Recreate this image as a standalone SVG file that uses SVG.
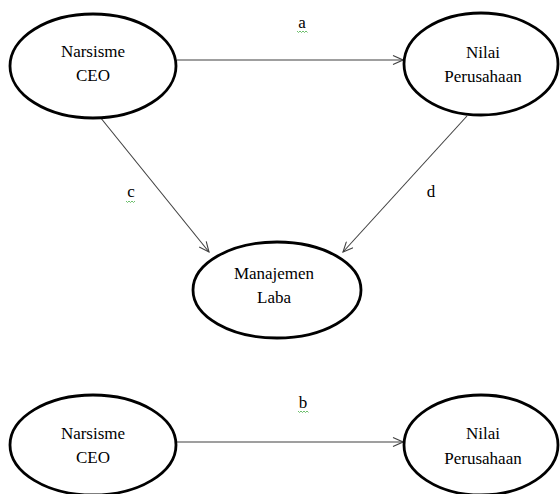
<svg xmlns="http://www.w3.org/2000/svg" width="560" height="494" viewBox="0 0 560 494">
<defs>
<marker id="arr" markerWidth="12" markerHeight="10" refX="11" refY="5" orient="auto" markerUnits="userSpaceOnUse">
<path d="M1,0.5 L11,5 L1,9.5" fill="none" stroke="#404040" stroke-width="1.1"/>
</marker>
</defs>
<style>
.node ellipse{fill:#fff;stroke:#000;stroke-width:2.8}
text{font-family:'Liberation Serif','Times New Roman',serif;font-size:17px;fill:#000;text-anchor:middle}
.edge{stroke:#404040;stroke-width:1.1;fill:none;marker-end:url(#arr)}
.sq{stroke:#5cb85c;stroke-width:0.9;fill:none}
</style>
<rect width="560" height="494" fill="#fff"/>
<g id="connectors">
<line class="edge" x1="177" y1="60" x2="403" y2="60"/>
<line class="edge" x1="100" y1="117" x2="209" y2="252"/>
<line class="edge" x1="467" y1="116" x2="343" y2="252"/>
<line class="edge" x1="177" y1="442" x2="403" y2="442"/>
</g>
<g id="labels">
<text x="302" y="28">a</text>
<path class="sq" d="M297,31 l1.5,1.5 l1.5,-1.5 l1.5,1.5 l1.5,-1.5 l1.5,1.5 l1.5,-1.5 l1.5,1.5"/>
<text x="131" y="197">c</text>
<path class="sq" d="M126,201 l1.5,1.5 l1.5,-1.5 l1.5,1.5 l1.5,-1.5 l1.5,1.5 l1.5,-1.5"/>
<text x="431" y="197">d</text>
<text x="303" y="408">b</text>
<path class="sq" d="M298,411 l1.5,1.5 l1.5,-1.5 l1.5,1.5 l1.5,-1.5 l1.5,1.5 l1.5,-1.5 l1.5,1.5"/>
</g>
<g id="narsisme-ceo-top" class="node">
<ellipse cx="93" cy="66" rx="83" ry="52"/>
<text x="93" y="57">Narsisme</text>
<text x="93" y="81">CEO</text>
</g>
<g id="nilai-perusahaan-top" class="node">
<ellipse cx="481" cy="64" rx="77" ry="51"/>
<text x="483" y="58">Nilai</text>
<text x="483" y="82">Perusahaan</text>
</g>
<g id="manajemen-laba" class="node">
<ellipse cx="277" cy="290" rx="84" ry="48"/>
<text x="274" y="279">Manajemen</text>
<text x="274" y="303">Laba</text>
</g>
<g id="narsisme-ceo-bottom" class="node">
<ellipse cx="93" cy="445" rx="83" ry="50"/>
<text x="93" y="439">Narsisme</text>
<text x="93" y="463">CEO</text>
</g>
<g id="nilai-perusahaan-bottom" class="node">
<ellipse cx="481" cy="445" rx="77" ry="50"/>
<text x="483" y="439">Nilai</text>
<text x="483" y="464">Perusahaan</text>
</g>
</svg>
